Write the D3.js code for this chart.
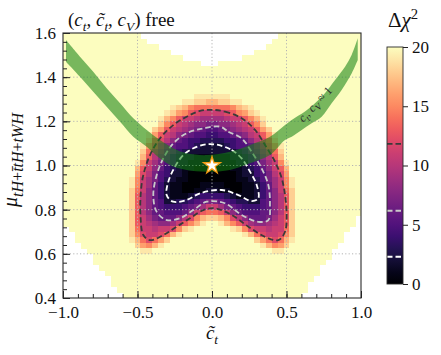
<!DOCTYPE html>
<html lang="en">
<head>
<meta charset="UTF-8">
<title>Delta chi2 map</title>
<script src="https://d3js.org/d3.v7.min.js"></script>
<style>
  body { margin: 0; background: #fff; }
  text { fill: #111; }
</style>
</head>
<body>
<div id="chart"></div>
<script>
// delta chi2, one character per cell, top row first
// 0-9 -> 0..9, a-j -> 10..19, k -> 20 and above, "." -> no point
const levelChars = "0123456789abcdefghijk";
const ctRange = [-1, 1];
const muRange = [0.4, 1.6];
const chi2Rows = [
  "kkkkk kkkkk kkk.. ..... ..... ..... ..... .kkkk kkkkk kkkkk",
  "kkkkk kkkkk kkkk. ..... ..... ..... ..... kkkkk kkkkk kkkkk",
  "kkkkk kkkkk kkkkk k.... ..... ..... ....k kkkkk kkkkk kkkkk",
  "kkkkk kkkkk kkkkk kkk.. ..... ..... ..kkk kkkkk kkkkk kkkkk",
  "kkkkk kkkkk kkkkk kkkkk ..... ..... kkkkk kkkkk kkkkk kkkkk",
  "kkkkk kkkkk kkkkk kkkkk kkk.. .kkkk kkkkk kkkkk kkkkk kkkkk",
  "kkkkk kkkkk kkkkk kkkkk kkkkk kkkkk kkkkk kkkkk kkkkk kkkkk",
  "kkkkk kkkkk kkkkk kkkkk kkkkk kkkkk kkkkk kkkkk kkkkk kkkkk",
  "kkkkk kkkkk kkkkk kkkkk kkkkk kkkkk kkkkk kkkkk kkkkk kkkkk",
  "kkkkk kkkkk kkkkk kkkkk kkkkk kkkkk kkkkk kkkkk kkkkk kkkkk",
  "kkkkk kkkkk kkkkk kkkkk kkkkk kkkkk kkkkk kkkkk kkkkk kkkkk",
  "kkkkk kkkkk kkkkk kkkkk kkjjj jjjkk kkkkk kkkkk kkkkk kkkkk",
  "kkkkk kkkkk kkkkk kkkkk jjiih hiijj kkkkk kkkkk kkkkk kkkkk",
  "kkkkk kkkkk kkkkk kkkji hfeee eeefh ijkkk kkkkk kkkkk kkkkk",
  "kkkkk kkkkk kkkkk kkjig fdcbb bbcdf gijkk kkkkk kkkkk kkkkk",
  "kkkkk kkkkk kkkkk kjhfd bba99 99abb dfhjk kkkkk kkkkk kkkkk",
  "kkkkk kkkkk kkkkk kifdb a9887 7889a bdfik kkkkk kkkkk kkkkk",
  "kkkkk kkkkk kkkkk igdba 98765 56789 abdgi kkkkk kkkkk kkkkk",
  "kkkkk kkkkk kkkkj gdba8 76554 45567 8abdg jkkkk kkkkk kkkkk",
  "kkkkk kkkkk kkkki eca86 54433 33445 68ace ikkkk kkkkk kkkkk",
  "kkkkk kkkkk kkkjg da865 54322 22345 568ad gjkkk kkkkk kkkkk",
  "kkkkk kkkkk kkkie b9764 32222 22223 4679b eikkk kkkkk kkkkk",
  "kkkkk kkkkk kkkhd a8643 22111 11122 3468a dhkkk kkkkk kkkkk",
  "kkkkk kkkkk kkjfb 97542 21111 11112 24579 bfjkk kkkkk kkkkk",
  "kkkkk kkkkk kkhdb 86432 11000 00011 23468 bdhkk kkkkk kkkkk",
  "kkkkk kkkkk kkgca 75422 10000 00001 22457 acgkk kkkkk kkkkk",
  "kkkkk kkkkk kjfb9 75321 10000 00001 12357 9bfjk kkkkk kkkkk",
  "kkkkk kkkkk kjfb9 64211 00011 11000 11246 9bfjk kkkkk kkkkk",
  "kkkkk kkkkk kieb8 64211 00112 21100 11246 8beik kkkkk kkkkk",
  "kkkkk kkkkk kida8 64211 12344 44321 11246 8adik kkkkk kkkkk",
  "kkkkk kkkkk kida8 65223 34567 76543 32256 8adik kkkkk kkkkk",
  "kkkkk kkkkk kida8 65444 5679b b9765 44456 8adik kkkkk kkkkk",
  "kkkkk kkkkk kida8 66555 68bde edb86 55566 8adik kkkkk kkkkk",
  "kkkkk kkkkk kidb9 76668 acfhi ihfca 86667 9bdik kkkkk kkkk.",
  "kkkkk kkkkk kidba 9889b dfhjk kjhfd b9889 abdik kkkkk kkkk.",
  ".kkkk kkkkk kiebb abbcf ijkkk kkkji fcbba bbeik kkkkk kkk..",
  "..kkk kkkkk kifcb bcehj kkkkk kkkkk jhecb bcfik kkkkk kk...",
  "..kkk kkkkk kjhec egikk kkkkk kkkkk kkige cehjk kkkkk kk...",
  "...kk kkkkk kkigf hjkkk kkkkk kkkkk kkkjh fgikk kkkkk k....",
  "....k kkkkk kkkjj kkkkk kkkkk kkkkk kkkkk jjkkk kkkkk .....",
  "..... kkkkk kkkkk kkkkk kkkkk kkkkk kkkkk kkkkk kkkkk .....",
  "..... kkkkk kkkkk kkkkk kkkkk kkkkk kkkkk kkkkk kkkk. .....",
  "..... .kkkk kkkkk kkkkk kkkkk kkkkk kkkkk kkkkk kkk.. .....",
  "..... ..kkk kkkkk kkkkk kkkkk kkkkk kkkkk kkkkk kkk.. .....",
  "..... ...kk kkkkk kkkkk kkkkk kkkkk kkkkk kkkkk kk... .....",
  "..... ...kk kkkkk kkkkk kkkkk kkkkk kkkkk kkkkk k.... .....",
  "..... ....k kkkkk kkkkk kkkkk kkkkk kkkkk kkkkk k.... .....",
  "..... ..... kkkkk kkkkk kkkkk kkkkk kkkkk kkkkk ..... ....."
];

// contour lines [ct~, mu]
const sigma1 = [[0.042,1.093],[0.132,1.07],[0.199,1.032],[0.255,0.972],[0.3,0.912],[0.311,0.851],[0.266,0.839],[0.177,0.866],[0.065,0.889],[-0.081,0.874],[-0.17,0.844],[-0.26,0.836],[-0.304,0.866],[-0.293,0.927],[-0.248,0.995],[-0.193,1.047],[-0.125,1.078],[-0.036,1.096]];
const sigma2 = [[0.054,1.176],[0.11,1.153],[0.199,1.123],[0.266,1.062],[0.333,0.987],[0.378,0.912],[0.389,0.821],[0.378,0.753],[0.311,0.745],[0.199,0.776],[0.087,0.829],[-0.036,0.836],[-0.125,0.798],[-0.215,0.761],[-0.304,0.753],[-0.371,0.79],[-0.394,0.866],[-0.371,0.957],[-0.327,1.032],[-0.26,1.1],[-0.17,1.146],[-0.058,1.168]];
const sigma3 = [[0.0,1.252],[0.087,1.244],[0.199,1.214],[0.289,1.161],[0.356,1.093],[0.423,1.017],[0.468,0.942],[0.49,0.866],[0.501,0.776],[0.49,0.70],[0.445,0.662],[0.356,0.677],[0.244,0.723],[0.132,0.776],[0.02,0.806],[-0.058,0.798],[-0.148,0.761],[-0.237,0.723],[-0.327,0.685],[-0.416,0.662],[-0.461,0.685],[-0.479,0.761],[-0.479,0.866],[-0.461,0.957],[-0.416,1.047],[-0.349,1.123],[-0.26,1.183],[-0.17,1.221],[-0.081,1.247]];
const contourLevels = [2.3, 6.18, 11.83];
const contourColors = ["#ffffff", "#c9c9c9", "#3a3a3a"];

// ct, cV ~ 1 band
const bandTop = [[-0.98,1.568],[-0.886,1.493],[-0.797,1.425],[-0.707,1.35],[-0.617,1.282],[-0.528,1.214],[-0.438,1.161],[-0.349,1.115],[-0.26,1.078],[-0.17,1.055],[-0.036,1.047],[0.121,1.062],[0.255,1.093],[0.389,1.13],[0.49,1.183],[0.535,1.206],[0.624,1.244],[0.691,1.282],[0.758,1.327],[0.826,1.387],[0.893,1.447],[0.937,1.50],[0.978,1.576]];
const bandBottom = [[-0.98,1.47],[-0.886,1.402],[-0.797,1.334],[-0.707,1.266],[-0.617,1.198],[-0.528,1.13],[-0.438,1.085],[-0.349,1.032],[-0.26,0.995],[-0.17,0.98],[-0.036,0.972],[0.121,0.98],[0.255,1.01],[0.389,1.047],[0.49,1.115],[0.535,1.13],[0.602,1.161],[0.669,1.191],[0.736,1.221],[0.803,1.282],[0.87,1.342],[0.937,1.417],[0.978,1.478]];

const smPoint = [0, 1];
const xTicks = [-1, -0.5, 0, 0.5, 1];
const yTicks = [0.4, 0.6, 0.8, 1.0, 1.2, 1.4, 1.6];
const cbTicks = [0, 5, 10, 15, 20];

const W = 441, H = 355;
const svg = d3.select("#chart").append("svg").attr("width", W).attr("height", H);

// pick the first serif face that is really installed
function pickFont(cands, fallback) {
  const probe = svg.append("text").attr("x", -500).attr("y", -500)
    .style("font-size", "40px").text("free 1.6 tWH 0.5");
  probe.style("font-family", "monospace");
  const base = probe.node().getComputedTextLength();
  for (const f of cands) {
    probe.style("font-family", `"${f}", monospace`);
    if (Math.abs(probe.node().getComputedTextLength() - base) > 0.5) { probe.remove(); return f; }
  }
  probe.remove();
  return fallback;
}
const FONT = `"${pickFont(["Liberation Serif", "DejaVu Serif", "Noto Serif", "Tinos", "Times New Roman", "FreeSerif"], "Noto Sans")}", serif`;

const x = d3.scaleLinear().domain(ctRange).range([63, 361]);
const y = d3.scaleLinear().domain(muRange).range([298, 33]);
const color = d3.scaleSequential(d3.interpolateMagma).domain([0, 20]);

svg.append("clipPath").attr("id", "plotclip")
  .append("rect").attr("x", 63).attr("y", 33).attr("width", 298).attr("height", 265);

// heatmap cells
const rows = chi2Rows.map(r => r.replace(/ /g, ""));
const nCols = rows[0].length, nRows = rows.length;
const dc = (ctRange[1] - ctRange[0]) / nCols, dm = (muRange[1] - muRange[0]) / nRows;
const cells = [];
rows.forEach((row, r) => {
  row.split("").forEach((ch, i) => {
    if (ch === ".") return;
    cells.push({ c0: ctRange[0] + i * dc, m1: muRange[1] - r * dm, v: levelChars.indexOf(ch) });
  });
});

const plot = svg.append("g").attr("clip-path", "url(#plotclip)");
plot.append("g").selectAll("rect").data(cells).join("rect")
  .attr("x", d => x(d.c0))
  .attr("y", d => y(d.m1))
  .attr("width", x(dc) - x(0) + 0.5)
  .attr("height", y(0) - y(dm) + 0.5)
  .attr("fill", d => color(d.v))
  .attr("shape-rendering", "crispEdges");

// dotted grid
const grid = plot.append("g").attr("stroke", "#b4b4b4").attr("stroke-width", 1).attr("stroke-dasharray", "1.2,2.2");
grid.selectAll(".gx").data(xTicks.slice(1, -1)).join("line")
  .attr("x1", d => x(d)).attr("x2", d => x(d)).attr("y1", 33).attr("y2", 298);
grid.selectAll(".gy").data(yTicks.slice(1, -1)).join("line")
  .attr("y1", d => y(d)).attr("y2", d => y(d)).attr("x1", 63).attr("x2", 361);

// contours
const contourLine = d3.line().x(d => x(d[0])).y(d => y(d[1])).curve(d3.curveCatmullRomClosed.alpha(0.5));
[sigma3, sigma2, sigma1].forEach((pts, k) => {
  plot.append("path")
    .attr("d", contourLine(pts))
    .attr("fill", "none")
    .attr("stroke", contourColors[2 - k])
    .attr("stroke-width", 1.8)
    .attr("stroke-dasharray", "5.5,3");
});

// green band
const edge = d3.line().x(d => x(d[0])).y(d => y(d[1])).curve(d3.curveCatmullRom.alpha(0.5));
const bandPath = edge(bandTop) + "L" + edge(bandBottom.slice().reverse()).slice(1) + "Z";
plot.append("path")
  .attr("d", bandPath)
  .attr("fill", "rgb(20,130,20)")
  .attr("fill-opacity", 0.57);

// rich text helper (subscripts / superscripts with tspans)
function rich(sel, parts, size, subScale = 0.7) {
  let shift = 0;
  sel.style("font-family", FONT);
  parts.forEach(p => {
    const target = p.sub ? size * 0.28 : p.sup ? -size * 0.4 : 0;
    sel.append("tspan")
      .attr("dy", target - shift)
      .style("font-size", (p.sub || p.sup ? size * subScale : size) + "px")
      .style("font-style", p.i ? "italic" : "normal")
      .text(p.t);
    shift = target;
  });
}

// band label
const bl = svg.append("text")
  .attr("transform", "translate(318,107) rotate(-47)")
  .attr("text-anchor", "middle")
  .style("fill", "#2a2a2a");
rich(bl, [{ t: "c", i: true }, { t: "t", i: true, sub: true }, { t: ", " }, { t: "c", i: true }, { t: "V", i: true, sub: true }, { t: " \u2248 1" }], 12, 0.75);

// SM star
svg.append("path")
  .attr("d", d3.symbol(d3.symbolStar, 52)())
  .attr("transform", `translate(${x(smPoint[0])},${y(smPoint[1])})`)
  .attr("fill", "#ffffff")
  .attr("stroke", "#f29b16")
  .attr("stroke-width", 2.6)
  .style("paint-order", "stroke");

// axes with inward ticks
const fmt = d3.format(".1f");
const xAxis = svg.append("g").attr("transform", "translate(0,298)")
  .call(d3.axisBottom(x).tickValues(xTicks).tickFormat(fmt).tickSize(-7).tickPadding(8));
const xMinor = svg.append("g").attr("transform", "translate(0,298)")
  .call(d3.axisBottom(x).tickValues(d3.range(-1, 1.001, 0.1)).tickFormat("").tickSize(-4));
const yAxis = svg.append("g").attr("transform", "translate(63,0)")
  .call(d3.axisLeft(y).tickValues(yTicks).tickFormat(fmt).tickSize(-7).tickPadding(7));
const yMinor = svg.append("g").attr("transform", "translate(63,0)")
  .call(d3.axisLeft(y).tickValues(d3.range(0.4, 1.6001, 0.04)).tickFormat("").tickSize(-4));
[xAxis, xMinor, yAxis, yMinor].forEach(a => {
  a.select(".domain").remove();
  a.selectAll("line").attr("stroke", "#222").attr("stroke-width", 1);
  a.selectAll("text").style("font-size", "17px").style("font-family", FONT).attr("fill", "#111");
});

svg.append("rect")
  .attr("x", 63).attr("y", 33).attr("width", 298).attr("height", 265)
  .attr("fill", "none").attr("stroke", "#2a2a2a").attr("stroke-width", 1.1);

// titles and axis labels
const title = svg.append("text").attr("x", 68).attr("y", 26);
rich(title, [{ t: "(" }, { t: "c", i: true }, { t: "t", i: true, sub: true }, { t: ", " }, { t: "c\u0303", i: true }, { t: "t", i: true, sub: true }, { t: ", " }, { t: "c", i: true }, { t: "V", i: true, sub: true }, { t: ") free" }], 19);

const xl = svg.append("text").attr("x", 212).attr("y", 339).attr("text-anchor", "middle");
rich(xl, [{ t: "c\u0303", i: true }, { t: "t", i: true, sub: true }], 19);

const yl = svg.append("text").attr("transform", "translate(17,160) rotate(-90)").attr("text-anchor", "middle");
rich(yl, [{ t: "\u03bc", i: true }, { t: "tH", i: true, sub: true }, { t: "+", sub: true }, { t: "t\u0304tH", i: true, sub: true }, { t: "+", sub: true }, { t: "tWH", i: true, sub: true }], 20, 0.8);

// colour bar
const cb = d3.scaleLinear().domain([0, 20]).range([284, 47]);
const grad = svg.append("defs").append("linearGradient").attr("id", "cbgrad")
  .attr("x1", 0).attr("y1", 1).attr("x2", 0).attr("y2", 0);
grad.selectAll("stop").data(d3.range(0, 1.0001, 0.05)).join("stop")
  .attr("offset", d => d).attr("stop-color", d => d3.interpolateMagma(d));
svg.append("rect").attr("x", 387).attr("y", 47).attr("width", 16).attr("height", 237)
  .attr("fill", "url(#cbgrad)");
contourLevels.forEach((lv, k) => {
  svg.append("line")
    .attr("x1", 387).attr("x2", 403).attr("y1", cb(lv)).attr("y2", cb(lv))
    .attr("stroke", contourColors[k]).attr("stroke-width", 1.8).attr("stroke-dasharray", "5.5,3");
});
svg.append("rect").attr("x", 387).attr("y", 47).attr("width", 16).attr("height", 237)
  .attr("fill", "none").attr("stroke", "#2a2a2a").attr("stroke-width", 0.9);
const cbAxis = svg.append("g").attr("transform", "translate(403,0)")
  .call(d3.axisRight(cb).tickValues(cbTicks).tickFormat(d3.format("d")).tickSize(5).tickPadding(4));
cbAxis.select(".domain").remove();
cbAxis.selectAll("line").attr("stroke", "#222");
cbAxis.selectAll("text").style("font-size", "17px").style("font-family", FONT).attr("fill", "#111");

const cbl = svg.append("text").attr("x", 388).attr("y", 27);
rich(cbl, [{ t: "\u0394" }, { t: "\u03c7", i: true }, { t: "2", sup: true }], 21);
</script>
</body>
</html>
